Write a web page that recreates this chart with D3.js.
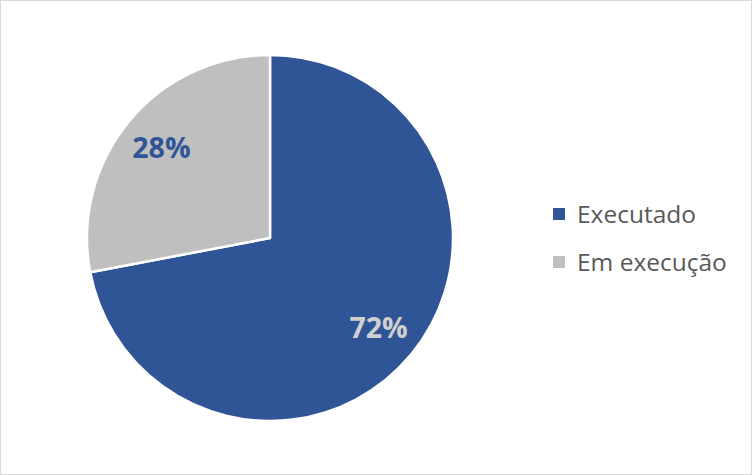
<!DOCTYPE html>
<html><head><meta charset="utf-8">
<script src="https://cdn.jsdelivr.net/npm/d3@7"></script>
<style>
html,body{margin:0;padding:0;background:#fff;}
svg{display:block;}
</style></head>
<body>
<script>
const categories = ["Executado", "Em execução"];
const values = [72, 28];
const labels = ["72%", "28%"];
const colors = ["#2F5597", "#BFBFBF"];
const labelColors = ["#D0D0D0", "#2F5597"];

const W = 752, H = 475;
const svg = d3.select("body").append("svg").attr("width", W).attr("height", H);
svg.append("rect").attr("x", 0.5).attr("y", 0.5).attr("width", W - 1).attr("height", H - 1)
  .attr("fill", "#fff").attr("stroke", "#D9D9D9");

const cx = 270, cy = 238, r = 183;
const pie = d3.pie().sort(null).value(d => d)(values);
const arc = d3.arc().innerRadius(0).outerRadius(r);
const labelArc = d3.arc().innerRadius(r * 0.77).outerRadius(r * 0.77);
const g = svg.append("g").attr("transform", `translate(${cx},${cy})`);
g.selectAll("path").data(pie).join("path")
  .attr("d", arc).attr("fill", (d, i) => colors[i])
  .attr("stroke", "#fff").attr("stroke-width", 2.5).attr("stroke-linejoin", "round");
g.selectAll("text").data(pie).join("text")
  .attr("transform", d => `translate(${labelArc.centroid(d)})`)
  .attr("text-anchor", "middle").attr("dy", "0.36em")
  .attr("font-family", "Open Sans, Lato, sans-serif").attr("font-weight", "bold")
  .attr("font-size", 28.5).attr("fill", (d, i) => labelColors[i])
  .text((d, i) => labels[i]);

const leg = svg.append("g").attr("transform", "translate(553,214)");
const items = leg.selectAll("g").data(categories).join("g")
  .attr("transform", (d, i) => `translate(0,${i * 48})`);
items.append("rect").attr("x", 0).attr("y", -6).attr("width", 12).attr("height", 12)
  .attr("fill", (d, i) => colors[i]);
items.append("text").attr("x", 24).attr("y", 0).attr("dy", "0.35em")
  .attr("font-family", "Open Sans, Lato, sans-serif").attr("font-size", 24.5)
  .attr("fill", "#595959").text(d => d);
</script>
</body></html>
